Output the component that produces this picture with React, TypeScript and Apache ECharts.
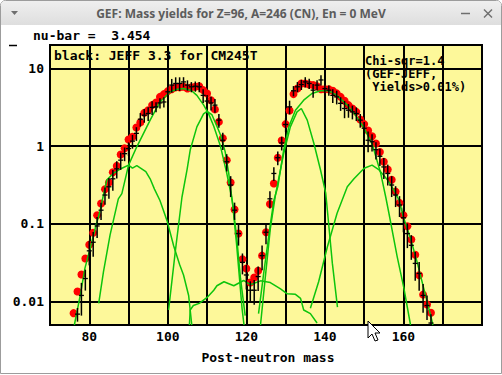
import React, { useEffect, useRef } from 'react';
import * as echarts from 'echarts';

// ---- data ----
const gefFirstMass = 76;
const gefYield = [
  0.0071, 0.0135, 0.0223, 0.0358, 0.054, 0.077, 0.129, 0.183, 0.279, 0.34,
  0.462, 0.557, 0.78, 0.94, 1.22, 1.32, 1.74, 2.02, 2.68, 2.9,
  3.37, 3.65, 4.3, 4.67, 5.1, 5.4, 5.7, 5.7, 5.8, 5.5,
  5.7, 5.8, 5.9, 5.25, 4.76, 3.9, 2.97, 2.05, 1.26, 0.66,
  0.34, 0.153, 0.075, 0.035, 0.0266, 0.0176, 0.0204, 0.025, 0.039, 0.078,
  0.18, 0.33, 0.71, 1.18, 1.92, 2.88, 4.67, 5.5, 6.4, 6.4,
  6.2, 6.1, 5.9, 5.4, 5.4, 5.4, 5.15, 4.77, 4.3, 3.83,
  3.37, 3.05, 2.76, 2.2, 1.92, 1.59, 1.34, 1.08, 0.84, 0.63,
  0.5, 0.37, 0.26, 0.186, 0.129, 0.093, 0.063, 0.04, 0.0218, 0.0123,
  0.0092, 0.0072,
];

const jeffFirstMass = 77;
const jeffYield = [
  0.0069, 0.012, 0.0198, 0.045, 0.058, 0.094, 0.15, 0.235, 0.3, 0.38,
  0.51, 0.66, 0.8, 0.93, 1.16, 1.46, 2.22, 2.5, 2.63, 3.15,
  3.2, 3.6, 3.7, 5.0, 6.1, 6.4, 6.4, 6.7, 6.1, 5.8,
  5.9, 5.8, 4.5, 3.8, 3.6, 3.37, 2.16, 1.19, 0.63, 0.316,
  0.15, 0.075, 0.032, 0.022, 0.014, 0.014, 0.021, 0.039, 0.078, 0.21,
  0.445, 0.71, 1.1, 1.9, 3.2, 5.15, 5.8, 6.2, 6.7, 6.4,
  5.25, 6.1, 7.1, 5.5, 5.25, 4.5, 4.3, 3.55, 3.05, 2.9,
  2.76, 2.63, 2.16, 1.7, 1.19, 1.14, 0.9, 0.74, 0.54, 0.445,
  0.316, 0.235, 0.175, 0.12, 0.075, 0.053, 0.031, 0.023, 0.012, 0.0089,
  0.0053,
];
// relative uncertainty of each JEFF value
const jeffRelErr = [
  0.2, 0.45, 0.3, 0.35, 0.35, 0.3, 0.25, 0.25, 0.3, 0.3,
  0.25, 0.25, 0.2, 0.2, 0.2, 0.2, 0.2, 0.2, 0.2, 0.2,
  0.15, 0.15, 0.15, 0.15, 0.2, 0.2, 0.2, 0.15, 0.15, 0.15,
  0.15, 0.15, 0.2, 0.2, 0.2, 0.2, 0.2, 0.25, 0.25, 0.3,
  0.25, 0.3, 0.3, 0.35, 0.3, 0.35, 0.35, 0.35, 0.3, 0.25,
  0.2, 0.2, 0.2, 0.2, 0.2, 0.15, 0.15, 0.15, 0.15, 0.15,
  0.2, 0.15, 0.15, 0.15, 0.15, 0.2, 0.2, 0.2, 0.25, 0.2,
  0.2, 0.2, 0.2, 0.2, 0.3, 0.25, 0.25, 0.25, 0.3, 0.3,
  0.3, 0.3, 0.3, 0.35, 0.35, 0.35, 0.4, 0.4, 0.4, 0.35,
  0.3,
];

// fission-channel contributions (green curves): [mass, yield]
const channelLightLow = [
  [76.2, 0.005], [77.7, 0.012], [78.9, 0.027], [80.2, 0.048], [81.5, 0.087], [82.8, 0.15],
  [83.6, 0.235], [84.5, 0.37], [86.1, 0.445], [88.3, 0.52], [90, 0.57], [91, 0.52],
  [92.1, 0.56], [94.4, 0.47], [95.5, 0.38], [96.6, 0.28], [98, 0.2], [99.8, 0.11],
  [101.5, 0.052], [103, 0.03], [104, 0.022], [105.3, 0.012], [106.1, 0.005],
];
const channelLightWide = [
  [82.4, 0.0095], [83.6, 0.024], [85.3, 0.072], [87.4, 0.21], [88.3, 0.245], [90, 0.57],
  [92.1, 0.98], [95.5, 2.16], [98, 3.7], [100.6, 5.0], [102.5, 5.4], [104, 5.5],
  [106, 5.2], [107.4, 4.5], [109.1, 3.4], [110.4, 2.6], [111.7, 1.8], [113.4, 1.0],
  [115, 0.45], [116.4, 0.2], [117.5, 0.07], [118.5, 0.02], [119.7, 0.0066],
];
const channelLightNarrow = [
  [100.2, 0.0078], [101.9, 0.044], [103.6, 0.22], [104.9, 0.5], [105.7, 0.89], [107.4, 1.77],
  [109.1, 2.6], [110, 2.8], [111.2, 2.55], [112.5, 1.8], [113.4, 1.4], [114.6, 0.85],
  [115.5, 0.45], [116.5, 0.18], [117.5, 0.055], [118.9, 0.0082], [119.4, 0.005],
];
const channelSymmetric = [
  [105.5, 0.005], [105.7, 0.0078], [106.5, 0.0089], [108, 0.0095], [110, 0.0113], [111.7, 0.014],
  [112.5, 0.016], [114.3, 0.018], [116.8, 0.016], [119.3, 0.0187], [121, 0.0165], [123.6, 0.0185],
  [126.1, 0.0176], [128.7, 0.0146], [130.4, 0.0126], [132.5, 0.0124], [133.8, 0.011], [134.6, 0.0078],
  [136.3, 0.007], [138, 0.0053],
];
const channelHeavyNarrow = [
  [123.6, 0.005], [124.8, 0.02], [126.1, 0.087], [127.4, 0.235], [129.5, 0.8], [131.2, 1.77],
  [132.9, 2.76], [134, 3.05], [135.5, 2.16], [137.2, 1.08], [138.9, 0.49], [140.2, 0.25],
  [140.7, 0.137], [141.9, 0.031], [143.2, 0.0085],
];
const channelHeavyWide = [
  [123.1, 0.007], [124.5, 0.025], [126, 0.09], [127, 0.2], [128, 0.3], [129.5, 0.89],
  [130.8, 1.77], [132.5, 2.9], [134.6, 3.9], [136.7, 4.76], [138.9, 5.15], [141, 5.15],
  [143.1, 4.5], [145.7, 3.37], [147.8, 2.5], [150, 1.7], [152, 1.08], [154.2, 0.45],
  [155.5, 0.22], [156.3, 0.137], [158.4, 0.038], [160.1, 0.015], [161.8, 0.005],
];
const channelHeavyLow = [
  [136.3, 0.0082], [138.4, 0.018], [140.6, 0.05], [143.1, 0.137], [145.7, 0.3], [147.4, 0.38],
  [150, 0.52], [152, 0.57], [153.7, 0.5], [155.9, 0.37], [157.6, 0.27], [158.9, 0.2],
  [160.1, 0.117], [161.8, 0.065], [163.5, 0.032], [165.2, 0.0146], [166.9, 0.0067], [167.5, 0.005],
];

const xTickLabels = ['80', '100', '120', '140', '160'];
const yTickLabels = ['0.01', '0.1', '1', '10'];

const titleText = 'GEF: Mass yields for Z=96, A=246 (CN), En = 0 MeV';
const nuBarText = 'nu-bar =  3.454';
const refText = 'black: JEFF 3.3 for CM245T';
const chiLines = ['Chi-sqr=1.4', '(GEF-JEFF,', ' Yields>0.01%)'];
const xAxisTitle = 'Post-neutron mass';

const MONO = "'DejaVu Sans Mono', monospace";
const YELLOW = '#fdf89a';
const GREEN = '#0cc40c';

export default function App() {
  const ref = useRef<HTMLDivElement>(null);
  useEffect(() => {
    if (!ref.current) return;
    const chart = echarts.init(ref.current, undefined, { renderer: 'svg' });

    const gefData = gefYield.map((v, i) => [gefFirstMass + i, v]);
    const jeffData = jeffYield.map((v, i) => [
      jeffFirstMass + i,
      v,
      v * (1 - jeffRelErr[i]),
      v * (1 + jeffRelErr[i]),
    ]);
    const channels = [
      channelLightLow, channelLightWide, channelLightNarrow, channelSymmetric,
      channelHeavyNarrow, channelHeavyWide, channelHeavyLow,
    ];

    const lineSeries = channels.map((c) => ({
      type: 'line',
      data: c,
      showSymbol: false,
      symbol: 'none',
      clip: true,
      z: 3,
      lineStyle: { color: GREEN, width: 1.5 },
      silent: true,
    }));

    const option: any = {
      animation: false,
      backgroundColor: '#ffffff',
      grid: {
        left: 50, top: 45, width: 432, height: 280,
        show: true, backgroundColor: YELLOW, borderColor: '#000', borderWidth: 2,
      },
      xAxis: {
        type: 'value', min: 70, max: 180, interval: 10,
        axisLine: { show: false }, axisTick: { show: false },
        splitLine: { show: true, lineStyle: { color: '#000', width: 2 } },
        axisLabel: {
          color: '#000', fontFamily: MONO, fontWeight: 'bold', fontSize: 13, margin: 5,
          formatter: (v: number) => {
            const s = String(Math.round(v));
            return xTickLabels.includes(s) ? s : '';
          },
        },
      },
      yAxis: {
        type: 'log', logBase: 10, min: 0.005, max: 20,
        axisLine: { show: false }, axisTick: { show: false },
        splitLine: { show: true, lineStyle: { color: '#000', width: 2 } },
        axisLabel: {
          color: '#000', fontFamily: MONO, fontWeight: 'bold', fontSize: 13, margin: 6,
          showMinLabel: false, showMaxLabel: false,
          formatter: (v: number) => {
            const l = Math.log10(v);
            const r = Math.round(l);
            if (Math.abs(l - r) > 1e-6) return '';
            const lab = yTickLabels[r + 2];
            return lab ?? '';
          },
        },
      },
      series: [
        {
          type: 'scatter', data: gefData, symbol: 'circle', symbolSize: 8,
          itemStyle: { color: '#ff0000', opacity: 1 }, z: 2, silent: true,
        },
        ...lineSeries,
        {
          type: 'custom', data: jeffData, z: 4, clip: true, silent: true,
          renderItem: (_p: any, api: any) => {
            const x = api.value(0);
            const p = api.coord([x, api.value(1)]);
            const lo = api.coord([x, api.value(2)]);
            const hi = api.coord([x, api.value(3)]);
            return {
              type: 'group',
              children: [
                { type: 'line', shape: { x1: p[0], y1: hi[1], x2: p[0], y2: lo[1] }, style: { stroke: '#000', lineWidth: 1.5 } },
                { type: 'line', shape: { x1: p[0] - 2.5, y1: p[1], x2: p[0] + 2.5, y2: p[1] }, style: { stroke: '#000', lineWidth: 1.3 } },
              ],
            };
          },
        },
      ],
      graphic: [
        // window frame
        { type: 'rect', z: -10, shape: { x: 0.5, y: 0.5, width: 501, height: 373, r: [5, 5, 0, 0] }, style: { fill: '#ffffff', stroke: '#9c9c9c', lineWidth: 1 } },
        {
          type: 'rect', z: -9, shape: { x: 1, y: 1, width: 500, height: 24, r: [4, 4, 0, 0] },
          style: {
            fill: new echarts.graphic.LinearGradient(0, 0, 0, 1, [
              { offset: 0, color: '#efefef' }, { offset: 1, color: '#dedede' },
            ]),
          },
        },
        { type: 'text', z: 10, x: 241, y: 13.5, style: { text: titleText, fill: '#5c5c5c', font: "bold 12px 'Noto Sans'", align: 'center', verticalAlign: 'middle' } },
        { type: 'polygon', z: 10, shape: { points: [[11, 11], [18, 11], [14.5, 15]] }, style: { fill: '#6e6e6e' } },
        { type: 'line', z: 10, shape: { x1: 461, y1: 13.5, x2: 470, y2: 13.5 }, style: { stroke: '#6e6e6e', lineWidth: 1.5 } },
        { type: 'line', z: 10, shape: { x1: 484, y1: 9.5, x2: 492, y2: 17.5 }, style: { stroke: '#6e6e6e', lineWidth: 1.5 } },
        { type: 'line', z: 10, shape: { x1: 492, y1: 9.5, x2: 484, y2: 17.5 }, style: { stroke: '#6e6e6e', lineWidth: 1.5 } },
        // texts
        { type: 'text', z: 10, x: 33, y: 35.5, style: { text: nuBarText, fill: '#000', font: `bold 13px ${MONO}`, verticalAlign: 'middle' } },
        { type: 'line', z: 10, shape: { x1: 9, y1: 45.5, x2: 17, y2: 45.5 }, style: { stroke: '#000', lineWidth: 1.5 } },
        { type: 'text', z: 10, x: 54, y: 55, style: { text: refText, fill: '#000', font: `bold 13px ${MONO}`, verticalAlign: 'middle' } },
        ...chiLines.map((t, i) => ({
          type: 'text', z: 10, x: 365, y: 61 + i * 13,
          style: { text: t, fill: '#000', font: `bold 12px ${MONO}`, lineHeight: 12, verticalAlign: 'middle' },
        })),
        { type: 'text', z: 10, x: 268, y: 357.5, style: { text: xAxisTitle, fill: '#000', font: `bold 13px ${MONO}`, align: 'center', verticalAlign: 'middle' } },
        // mouse pointer
        {
          type: 'polygon', z: 20,
          shape: { points: [[368, 321], [368, 338], [372, 334], [375, 341], [378, 340], [375, 333], [380, 333]] },
          style: { fill: '#ffffff', stroke: '#000', lineWidth: 1 },
        },
      ],
    };
    chart.setOption(option);
    return () => chart.dispose();
  }, []);
  return <div ref={ref} style={{ position: 'fixed', left: 0, top: 0, width: 502, height: 375 }} />;
}
